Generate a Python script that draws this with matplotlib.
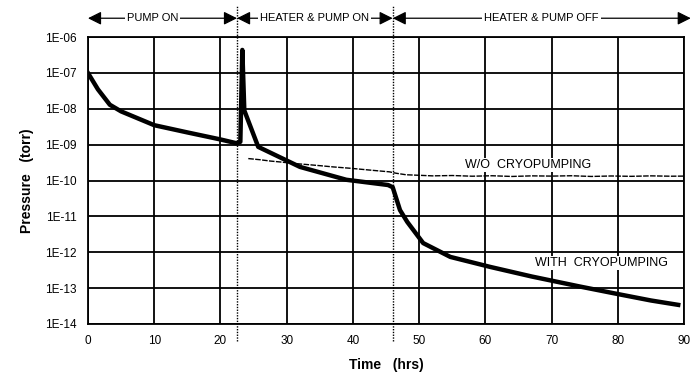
import matplotlib.pyplot as plt
import numpy as np

plt.rcParams['font.family'] = ['Liberation Sans', 'DejaVu Sans']

# WITH CRYOPUMPING (thick line)
with_t = [0, 1.5, 3.3, 5, 10, 15, 20, 22.4, 23.0, 23.3, 23.6, 25.7, 32, 39, 45.3, 46.0,
          47.1, 48.2, 50.6, 54.7, 60.7, 67, 74.3, 80, 85, 89.1]
with_p = [1.0e-7, 3.5e-8, 1.3e-8, 8.5e-9, 3.5e-9, 2.2e-9, 1.4e-9, 1.1e-9, 1.2e-9, 4.4e-7, 9e-9,
          8.7e-10, 2.4e-10, 1.05e-10, 7.5e-11, 6.5e-11, 1.5e-11, 7e-12, 1.8e-12, 7.4e-13,
          3.9e-13, 2.1e-13, 1.1e-13, 6.8e-14, 4.5e-14, 3.4e-14]

# W/O CRYOPUMPING (thin line)
wo_t = [24.2, 26, 27.5, 29, 31, 33, 35, 37, 39.6, 42, 44, 45.5, 46.5, 48, 50, 52, 55, 58, 61,
        64, 67, 70, 73, 76, 79, 82, 85, 88, 90]
wo_p = [4.1e-10, 3.8e-10, 3.5e-10, 3.3e-10, 3.0e-10, 2.8e-10, 2.6e-10, 2.4e-10, 2.2e-10,
        2.0e-10, 1.85e-10, 1.75e-10, 1.6e-10, 1.45e-10, 1.4e-10, 1.35e-10, 1.38e-10, 1.32e-10,
        1.36e-10, 1.3e-10, 1.35e-10, 1.33e-10, 1.36e-10, 1.3e-10, 1.34e-10, 1.31e-10, 1.35e-10,
        1.32e-10, 1.33e-10]

phase_edges = [0, 22.5, 46, 91]
phase_labels = ['PUMP ON', 'HEATER & PUMP ON', 'HEATER & PUMP OFF']

x_ticks = list(range(0, 91, 10))
y_ticks = [1e-14, 1e-13, 1e-12, 1e-11, 1e-10, 1e-9, 1e-8, 1e-7, 1e-6]
y_ticklabels = ['1E-14', '1E-13', '1E-12', '1E-11', '1E-10', '1E-09', '1E-08', '1E-07', '1E-06']

fig = plt.figure(figsize=(6.96, 3.87), dpi=100)
ax = fig.add_axes([0.1264, 0.163, 0.8566, 0.741])

ax.set_yscale('log')
ax.set_xlim(0, 90)
ax.set_ylim(1e-14, 1e-6)
ax.set_xticks(x_ticks)
ax.set_xticklabels([str(v) for v in x_ticks], fontsize=8.5)
ax.set_yticks(y_ticks)
ax.set_yticklabels(y_ticklabels, fontsize=8.5)
ax.yaxis.set_minor_locator(plt.NullLocator())
ax.tick_params(length=0, pad=8)
ax.grid(True, color='black', linewidth=1.3)
for s in ax.spines.values():
    s.set_linewidth(1.3)

ax.plot(with_t, with_p, color='black', linewidth=3.2, solid_joinstyle='round', zorder=4)
ax.plot(wo_t, wo_p, color='black', linewidth=1.0, linestyle=(0, (4, 1)), zorder=3)

# phase separators
for xv in phase_edges[1:3]:
    ax.axvline(xv, ymin=-0.06, ymax=1.11, color='black', linewidth=1.0,
               linestyle=(0, (1, 1)), clip_on=False, zorder=5)

# phase arrows on top
tr = ax.get_xaxis_transform()
ya = 1.066
for i, lab in enumerate(phase_labels):
    x0, x1 = phase_edges[i], phase_edges[i + 1]
    ax.annotate('', xy=(x1, ya), xytext=(x0, ya), xycoords=tr, textcoords=tr,
                arrowprops=dict(arrowstyle='<|-|>', color='black', lw=0.9,
                                mutation_scale=20, shrinkA=0, shrinkB=0),
                annotation_clip=False)
    ax.text((x0 + x1) / 2 + (-1.5 if i == 0 else 0), ya, lab, transform=tr, ha='center',
            va='center', fontsize=8, bbox=dict(facecolor='white', edgecolor='none', pad=1.5),
            clip_on=False, zorder=6)

ax.text(66.5, 2.7e-10, 'W/O  CRYOPUMPING', fontsize=9, ha='center', va='center',
        bbox=dict(facecolor='white', edgecolor='none', pad=0.5), zorder=6)
ax.text(77.5, 5e-13, 'WITH  CRYOPUMPING', fontsize=9, ha='center', va='center',
        bbox=dict(facecolor='white', edgecolor='none', pad=0.5), zorder=6)

ax.set_xlabel('Time   (hrs)', fontsize=10, fontweight='bold', labelpad=8)
ax.set_ylabel('Pressure   (torr)', fontsize=10, fontweight='bold', labelpad=8)

fig.savefig('out.png', dpi=100)
